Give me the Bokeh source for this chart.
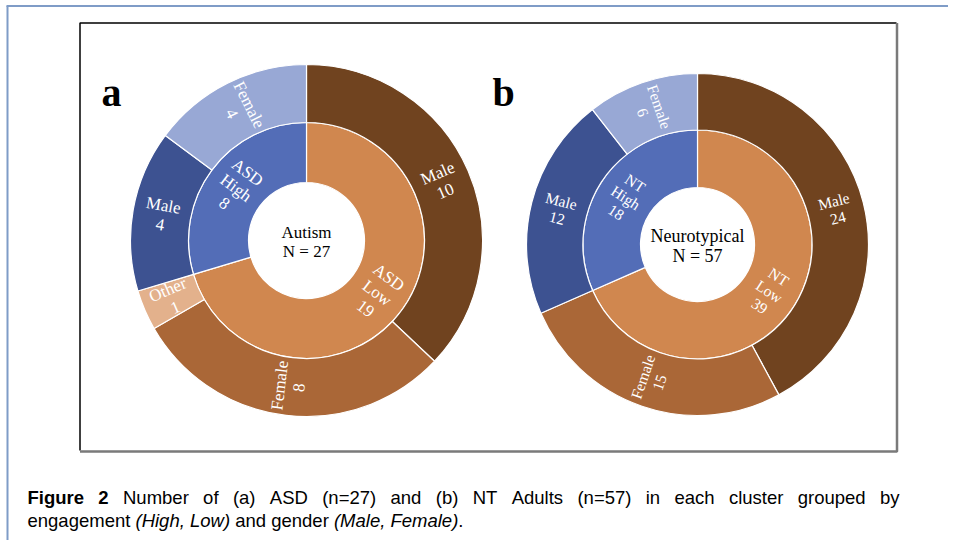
import numpy as np
from bokeh.plotting import figure
from bokeh.models import Range1d
from bokeh.core.properties import value
from bokeh.embed import file_html
from bokeh.resources import INLINE

# ---------------- data ----------------
# Panel a: Autism (N = 27)
a_inner_labels = ["ASD\nLow", "ASD\nHigh"]
a_inner_values = [19, 8]
a_outer_labels = ["Male", "Female", "Other", "Male", "Female"]
a_outer_values = [10, 8, 1, 4, 4]

# Panel b: Neurotypical (N = 57)
b_inner_labels = ["NT\nLow", "NT\nHigh"]
b_inner_values = [39, 18]
b_outer_labels = ["Male", "Female", "Male", "Female"]
b_outer_values = [24, 15, 12, 6]

inner_colors = ["#d0874f", "#536db7"]
a_outer_colors = ["#70431f", "#aa6737", "#e3b18c", "#3d5291", "#98a8d5"]
b_outer_colors = ["#70431f", "#aa6737", "#3d5291", "#98a8d5"]

center_a = "Autism\nN = 27"
center_b = "Neurotypical\nN = 57"

caption1 = [("Figure", "bold"), ("2", "bold"), ("Number", "normal"), ("of", "normal"),
            ("(a)", "normal"), ("ASD", "normal"), ("(n=27)", "normal"), ("and", "normal"),
            ("(b)", "normal"), ("NT", "normal"), ("Adults", "normal"), ("(n=57)", "normal"),
            ("in", "normal"), ("each", "normal"), ("cluster", "normal"), ("grouped", "normal"),
            ("by", "normal")]
# (text, style, space before)
caption2 = [("engagement", "normal", 0), ("(High, Low)", "italic", 1), ("and", "normal", 1),
            ("gender", "normal", 1), ("(Male, Female)", "italic", 1), (".", "normal", 0)]

# approximate advance widths (Arial / Liberation Sans metrics, per 1000 em)
ADV = {" ": 278, "(": 333, ")": 333, ",": 278, ".": 278, "=": 584, "2": 556, "5": 556,
       "7": 556, "A": 667, "D": 722, "F": 611, "H": 722, "L": 556, "M": 833, "N": 722,
       "S": 667, "T": 611, "a": 556, "b": 556, "c": 500, "d": 556, "e": 556, "f": 278,
       "g": 556, "h": 556, "i": 222, "l": 222, "m": 833, "n": 556, "o": 556, "p": 556,
       "r": 333, "s": 500, "t": 278, "u": 556, "w": 722, "y": 500}
ADV_B = {"F": 611, "i": 278, "g": 611, "u": 611, "r": 389, "e": 556, "2": 556, " ": 278}

# ---------------- figure (data coords = page pixels; y flipped) ----------------
W, H = 948, 540
p = figure(width=W, height=H, x_range=Range1d(0, W), y_range=Range1d(0, H),
           toolbar_location=None, output_backend="svg", min_border=0,
           x_axis_type=None, y_axis_type=None)
p.grid.visible = False
p.outline_line_color = None
p.background_fill_color = "white"


def Y(y):
    return H - y


# page frame (blue lines top / left)
p.line([6, W], [Y(5.5), Y(5.5)], line_color="#7f9cc7", line_width=2)
p.line([7, 7], [Y(5.5), Y(H)], line_color="#7f9cc7", line_width=2)

# figure box
p.line([79.5, 79.5, 896], [Y(450), Y(22.5), Y(22.5)], line_color="black", line_width=1.5)
p.line([79.5, 896.5, 896.5], [Y(451), Y(451), Y(22.5)], line_color="#7a7a7a", line_width=2.5)


def ring(cx, cy, r0, r1, values, colors, labels, fs):
    vals = np.array(values, dtype=float)
    cum = np.concatenate([[0], np.cumsum(vals)])
    t0 = cum[:-1] / cum[-1] * 2 * np.pi
    t1 = cum[1:] / cum[-1] * 2 * np.pi
    p.annular_wedge(x=cx, y=Y(cy), inner_radius=r0, outer_radius=r1,
                    start_angle=np.pi / 2 - t1, end_angle=np.pi / 2 - t0,
                    fill_color=colors, line_color="white", line_width=1.2)
    mid = (t0 + t1) / 2
    rm = (r0 + r1) / 2
    lx = cx + rm * np.sin(mid)
    ly = Y(cy) + rm * np.cos(mid)
    phi = np.pi / 2 - mid
    phi = np.where(np.cos(phi) < 0, phi + np.pi, phi)
    phi = (phi + np.pi) % (2 * np.pi) - np.pi
    txt = [f"{l}\n{v}" for l, v in zip(labels, values)]
    p.text(x=lx, y=ly, text=txt, angle=phi, text_align="center", text_baseline="middle",
           text_font=value("Liberation Serif"), text_font_size=fs, text_color="white",
           text_line_height=1.02)


# panel a
ring(306, 240, 58, 118, a_inner_values, inner_colors, a_inner_labels, "17px")
ring(306, 240, 118, 176, a_outer_values, a_outer_colors, a_outer_labels, "17px")
p.text(x=[306], y=[Y(241)], text=[center_a], text_align="center", text_baseline="middle",
       text_font=value("Liberation Serif"), text_font_size="17px", text_color="black",
       text_line_height=1.0)

# panel b
ring(697, 244, 57, 114.5, b_inner_values, inner_colors, b_inner_labels, "15.5px")
ring(697, 244, 114.5, 171, b_outer_values, b_outer_colors, b_outer_labels, "15.5px")
p.text(x=[697], y=[Y(245)], text=[center_b], text_align="center", text_baseline="middle",
       text_font=value("Liberation Serif"), text_font_size="18px", text_color="black",
       text_line_height=1.0)

# panel letters
p.text(x=[101, 492], y=[Y(92), Y(92)], text=["a", "b"], text_align="left",
       text_baseline="alphabetic", text_font=value("Liberation Serif"),
       text_font_size="40px", text_font_style="bold", text_color="black")

# caption (line 1 justified between left and right edge, like the LaTeX original)
FS = 18.5
cap_left, cap_right = 27, 899
BASE1, BASE2 = 497, 520


def word_w(w, st):
    tab = ADV_B if st == "bold" else ADV
    return sum(tab.get(c, 556) for c in w) / 1000 * FS


widths = [word_w(w, st) for w, st in caption1]
gap = (cap_right - cap_left - sum(widths)) / (len(caption1) - 1)
x = cap_left
for (w, st), wd in zip(caption1, widths):
    p.text(x=[x], y=[Y(BASE1)], text=[w], text_align="left", text_baseline="alphabetic",
           text_font=value("Liberation Sans"), text_font_size=f"{FS}px", text_font_style=st,
           text_color="black")
    x += wd + gap

x = cap_left
space = ADV[" "] / 1000 * FS
for w, st, sp in caption2:
    x += sp * space
    p.text(x=[x], y=[Y(BASE2)], text=[w], text_align="left", text_baseline="alphabetic",
           text_font=value("Liberation Sans"), text_font_size=f"{FS}px", text_font_style=st,
           text_color="black")
    x += word_w(w, st)

open("out.html", "w").write(file_html(p, INLINE))
